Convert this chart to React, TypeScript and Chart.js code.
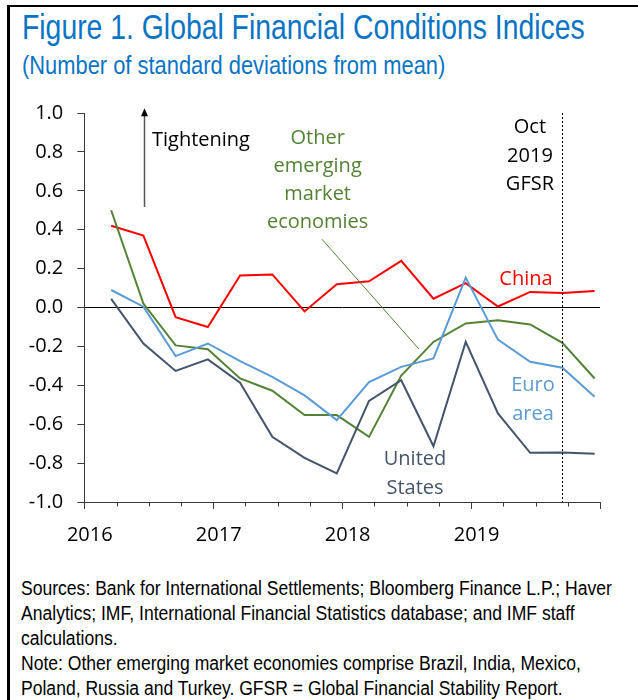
import React, { useEffect, useRef } from 'react';
import { Chart, registerables } from 'chart.js';

Chart.register(...registerables);

// ---------- data ----------
const dates = [
  '2016-03', '2016-06', '2016-09', '2016-12',
  '2017-03', '2017-06', '2017-09', '2017-12',
  '2018-03', '2018-06', '2018-09', '2018-12',
  '2019-03', '2019-06', '2019-09', '2019-12',
];
const china = [0.42, 0.37, -0.05, -0.10, 0.165, 0.17, -0.02, 0.12, 0.135, 0.24, 0.045, 0.125, 0.005, 0.08, 0.075, 0.085];
const otherEM = [0.50, 0.02, -0.195, -0.215, -0.365, -0.428, -0.553, -0.553, -0.665, -0.35, -0.177, -0.082, -0.065, -0.087, -0.182, -0.365];
const euroArea = [0.09, 0.004, -0.25, -0.185, -0.276, -0.357, -0.452, -0.579, -0.383, -0.305, -0.262, 0.154, -0.165, -0.279, -0.31, -0.459];
const unitedStates = [0.044, -0.185, -0.326, -0.267, -0.387, -0.665, -0.773, -0.853, -0.48, -0.374, -0.713, -0.177, -0.545, -0.747, -0.745, -0.752];
const yearLabels = ['2016', '2017', '2018', '2019'];
const gfsrDate = '2019-09';

const COLORS = {
  china: '#ff0000',
  em: '#548235',
  euro: '#5b9bd5',
  us: '#44546a',
};

const FONT = '"Open Sans", "DejaVu Sans", sans-serif';

function monthPos(d: string): number {
  const [y, m] = d.split('-').map(Number);
  return (y - 2016) * 12 + (m - 1) + 0.5;
}

function series(vals: number[]) {
  return dates.map((d, i) => ({ x: monthPos(d), y: vals[i] }));
}

const annotationPlugin = {
  id: 'annotations',
  afterDatasetsDraw(chart: any) {
    const { ctx, scales } = chart;
    const xs = scales.x;
    const ys = scales.y;
    const X = (v: number) => xs.getPixelForValue(v);
    const Y = (v: number) => ys.getPixelForValue(v);
    const bottom = chart.chartArea.bottom;
    ctx.save();

    // minor ticks on x axis
    ctx.strokeStyle = '#3a3a3a';
    ctx.lineWidth = 1;
    for (let m = 3; m < 48; m += 3) {
      if (m % 12 === 0) continue;
      const px = Math.round(X(m)) + 0.5;
      ctx.beginPath();
      ctx.moveTo(px, bottom);
      ctx.lineTo(px, bottom + 4.5);
      ctx.stroke();
    }

    // dotted GFSR line
    const gx = Math.round(X(monthPos(gfsrDate))) + 0.5;
    ctx.strokeStyle = '#000';
    ctx.setLineDash([2, 2]);
    ctx.beginPath();
    ctx.moveTo(gx, Y(1.0));
    ctx.lineTo(gx, bottom);
    ctx.stroke();
    ctx.setLineDash([]);

    // Tightening arrow
    const ax = Math.round(X(5.585)) + 0.5;
    const tipY = Y(1.024);
    ctx.strokeStyle = '#555';
    ctx.lineWidth = 1.5;
    ctx.beginPath();
    ctx.moveTo(ax, Y(0.517));
    ctx.lineTo(ax, tipY + 6);
    ctx.stroke();
    ctx.fillStyle = '#000';
    ctx.beginPath();
    ctx.moveTo(ax, tipY);
    ctx.lineTo(ax - 3.5, tipY + 8);
    ctx.lineTo(ax + 3.5, tipY + 8);
    ctx.closePath();
    ctx.fill();

    ctx.font = `20px ${FONT}`;
    ctx.textBaseline = 'alphabetic';

    ctx.fillStyle = '#000';
    ctx.textAlign = 'left';
    ctx.fillText('Tightening', X(6.3), Y(0.829));

    // Other EM label
    ctx.fillStyle = COLORS.em;
    ctx.textAlign = 'center';
    const emLines = ['Other', 'emerging', 'market', 'economies'];
    const emX = X(21.72);
    const emY = Y(0.843);
    emLines.forEach((t, i) => ctx.fillText(t, emX, emY + i * 28.3));

    // leader line
    ctx.strokeStyle = COLORS.em;
    ctx.lineWidth = 1;
    ctx.beginPath();
    ctx.moveTo(X(22.12), Y(0.351));
    ctx.lineTo(X(31.15), Y(-0.214));
    ctx.stroke();

    // Oct 2019 GFSR
    ctx.fillStyle = '#000';
    const gLines = ['Oct', '2019', 'GFSR'];
    const gX = X(41.48);
    const gY = Y(0.897);
    gLines.forEach((t, i) => ctx.fillText(t, gX, gY + i * 28.7));

    // China
    ctx.fillStyle = COLORS.china;
    ctx.fillText('China', X(41.11), Y(0.115));

    // Euro area
    ctx.fillStyle = COLORS.euro;
    ctx.fillText('Euro', X(41.76), Y(-0.43));
    ctx.fillText('area', X(41.76), Y(-0.43) + 28.5);

    // United States
    ctx.fillStyle = COLORS.us;
    ctx.fillText('United', X(30.78), Y(-0.81));
    ctx.fillText('States', X(30.78), Y(-0.81) + 29);

    ctx.restore();
  },
};

function ChartCanvas() {
  const ref = useRef<HTMLCanvasElement | null>(null);
  useEffect(() => {
    if (!ref.current) return;
    const mk = (label: string, vals: number[], color: string) => ({
      label,
      data: series(vals),
      borderColor: color,
      backgroundColor: color,
      borderWidth: 2,
      pointRadius: 0,
      tension: 0,
      fill: false,
    });
    const chart = new Chart(ref.current, {
      type: 'line',
      data: {
        datasets: [
          mk('Euro area', euroArea, COLORS.euro),
          mk('United States', unitedStates, COLORS.us),
          mk('Other emerging market economies', otherEM, COLORS.em),
          mk('China', china, COLORS.china),
        ],
      },
      options: {
        responsive: false,
        animation: false,
        devicePixelRatio: 1,
        layout: { padding: { top: 113, right: 38, left: 0, bottom: 0 } },
        plugins: { legend: { display: false }, tooltip: { enabled: false }, title: { display: false } },
        scales: {
          x: {
            type: 'linear',
            min: 0,
            max: 48,
            afterFit: (s: any) => { s.height = 58; },
            border: { display: true, color: '#3a3a3a', width: 1 },
            grid: {
              drawOnChartArea: false,
              drawTicks: true,
              tickLength: 7,
              tickColor: (c: any) => (c.tick && c.tick.value % 12 === 0 ? '#3a3a3a' : 'rgba(0,0,0,0)'),
            },
            ticks: {
              stepSize: 3,
              autoSkip: false,
              maxRotation: 0,
              labelOffset: 5.5,
              padding: 14,
              color: '#000',
              font: { family: FONT, size: 20 },
              callback: (v: any) => (v % 12 === 0 && v < 48 ? yearLabels[v / 12] : ''),
            },
          },
          y: {
            min: -1,
            max: 1,
            afterFit: (s: any) => { s.width = 84.3; },
            border: { display: true, color: '#3a3a3a', width: 1 },
            grid: {
              drawOnChartArea: true,
              tickLength: 7,
              tickColor: '#3a3a3a',
              color: (c: any) => (c.tick && Math.abs(c.tick.value) < 1e-6 ? '#000' : 'rgba(0,0,0,0)'),
            },
            ticks: {
              stepSize: 0.2,
              padding: 14,
              color: '#000',
              font: { family: FONT, size: 20 },
              callback: (v: any) => Number(v).toFixed(1),
            },
          },
        },
      },
      plugins: [annotationPlugin],
    });
    return () => chart.destroy();
  }, []);
  return (
    <canvas
      ref={ref}
      width={638}
      height={560}
      style={{ position: 'absolute', left: 0, top: 0, width: 638, height: 560 }}
    />
  );
}

const notes = [
  'Sources: Bank for International Settlements; Bloomberg Finance L.P.; Haver',
  'Analytics; IMF, International Financial Statistics database; and IMF staff',
  'calculations.',
  'Note: Other emerging market economies comprise Brazil, India, Mexico,',
  'Poland, Russia and Turkey. GFSR = Global Financial Stability Report.',
];

const NARROW = '"Liberation Sans Narrow", "Arial Narrow", "Liberation Sans", Arial, sans-serif';

export default function App() {
  return (
    <div style={{ position: 'absolute', left: 0, top: 0, width: 638, height: 700, overflow: 'hidden', background: '#fff' }}>
      <div
        style={{
          position: 'absolute', left: 7, top: 5, width: 631, height: 695,
          borderTop: '2px solid #000', borderLeft: '3px solid #000', boxSizing: 'border-box',
        }}
      />
      <div style={{ position: 'absolute', left: 22, top: 10, fontFamily: NARROW, fontSize: 34.6, lineHeight: '35px', color: '#0a74c4', whiteSpace: 'nowrap', transform: 'scaleX(0.82)', transformOrigin: '0 0' }}>
        Figure 1. Global Financial Conditions Indices
      </div>
      <div style={{ position: 'absolute', left: 22, top: 51.8, fontFamily: NARROW, fontSize: 26.7, lineHeight: '27px', color: '#0a74c4', whiteSpace: 'nowrap', transform: 'scaleX(0.82)', transformOrigin: '0 0' }}>
        (Number of standard deviations from mean)
      </div>
      <ChartCanvas />
      <div style={{ position: 'absolute', left: 21, top: 575.7, fontFamily: NARROW, fontSize: 19.5, lineHeight: '25px', color: '#000', transform: 'scaleX(0.9)', transformOrigin: '0 0' }}>
        {notes.map((n, i) => (
          <div key={i} style={{ whiteSpace: 'nowrap' }}>{n}</div>
        ))}
      </div>
    </div>
  );
}
